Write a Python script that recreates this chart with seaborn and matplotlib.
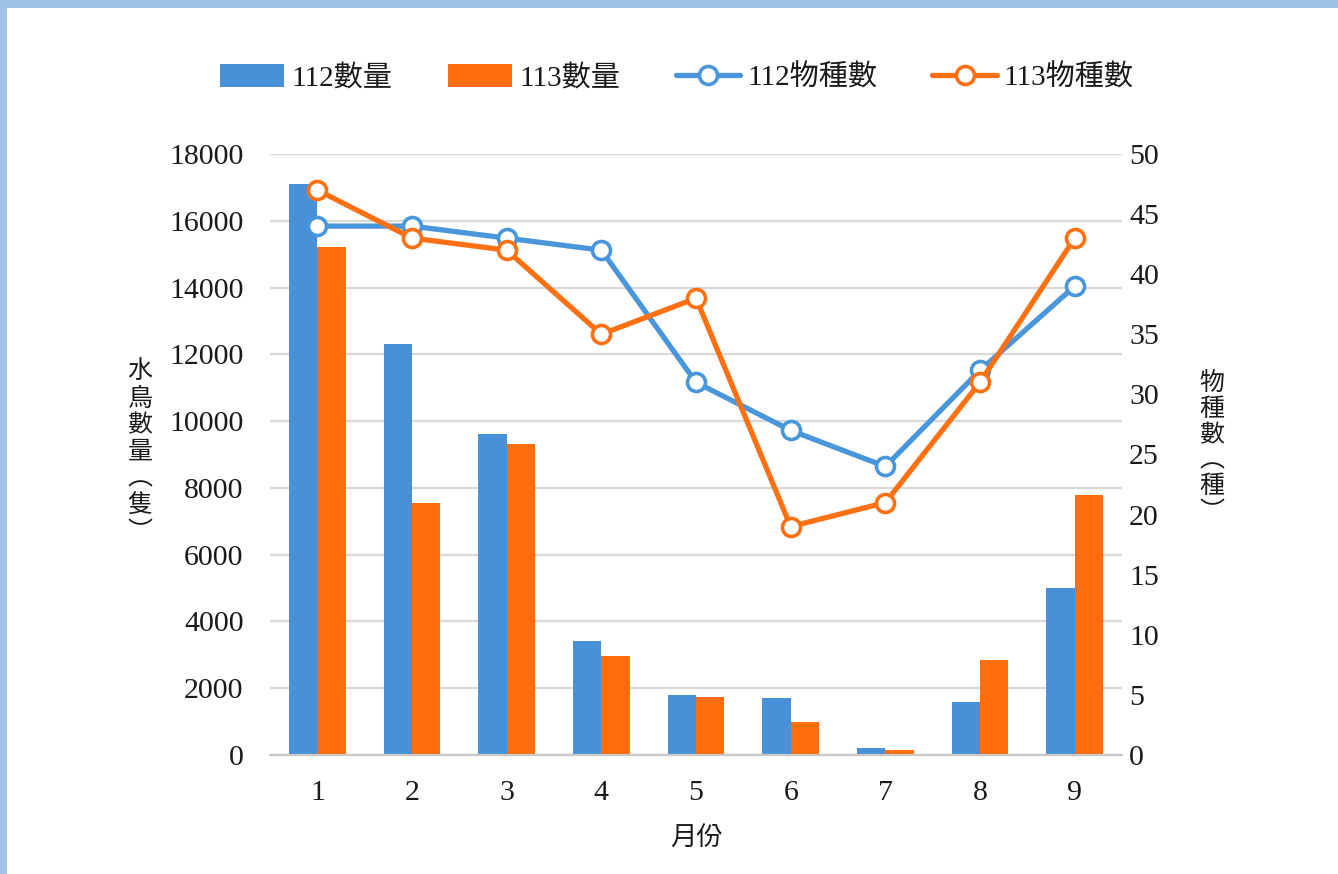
import numpy as np
import pandas as pd
import matplotlib
matplotlib.use("Agg")
import matplotlib.pyplot as plt
import seaborn as sns
from matplotlib.patches import Patch, Rectangle
from matplotlib.lines import Line2D

months = ["1", "2", "3", "4", "5", "6", "7", "8", "9"]
count_112 = [17100, 12300, 9600, 3400, 1800, 1700, 200, 1600, 5000]
count_113 = [15200, 7550, 9300, 2950, 1750, 1000, 140, 2850, 7800]
species_112 = [44, 44, 43, 42, 31, 27, 24, 32, 39]
species_113 = [47, 43, 42, 35, 38, 19, 21, 31, 43]
series_names = ["112數量", "113數量", "112物種數", "113物種數"]
left_ticks = list(range(0, 18001, 2000))
right_ticks = list(range(0, 51, 5))

BLUE = "#4a90d9"
ORANGE = "#ff6d0d"
LBLUE = "#4a96da"
LORANGE = "#ff7012"
TXT = "#1a1a1a"
FAM = ["Liberation Serif", "Noto Sans CJK TC"]

sns.set_theme(style="white")
plt.rcParams["font.family"] = FAM

df = pd.DataFrame({
    "month": months * 2,
    "count": count_112 + count_113,
    "year": [series_names[0]] * len(months) + [series_names[1]] * len(months),
})

fig = plt.figure(figsize=(13.38, 8.74), dpi=100)
ax = fig.add_axes([0.2018, 0.1362, 0.6368, 0.6876])

sns.barplot(data=df, x="month", y="count", hue="year", order=months,
            palette=[BLUE, ORANGE], width=0.6, saturation=1, ax=ax,
            legend=False, linewidth=0, edgecolor="none", zorder=2)
ax.set_ylim(0, 18000)
ax.set_yticks(left_ticks)
ax.set_yticklabels([str(t) for t in left_ticks])
ax.set_xlim(-0.5, len(months) - 0.5)
ax.grid(axis="y", color="#d9d9d9", linewidth=1.6, zorder=0)
ax.set_axisbelow(True)
for s in ["top", "left", "right"]:
    ax.spines[s].set_visible(False)
ax.spines["bottom"].set_color("#c8c8c8")
ax.spines["bottom"].set_linewidth(1.6)
ax.tick_params(axis="both", length=0, labelsize=21.5, colors=TXT)
ax.tick_params(axis="y", pad=19)
ax.tick_params(axis="x", pad=18)
ax.set_xlabel("")
ax.set_ylabel("")

ax2 = ax.twinx()
pos = np.arange(len(months))
sns.lineplot(x=pos, y=species_112, ax=ax2, color=LBLUE, linewidth=3.8,
             marker="o", markersize=13, markerfacecolor="white",
             markeredgecolor=LBLUE, markeredgewidth=2.6, zorder=3)
sns.lineplot(x=pos, y=species_113, ax=ax2, color=LORANGE, linewidth=3.8,
             marker="o", markersize=13, markerfacecolor="white",
             markeredgecolor=LORANGE, markeredgewidth=2.6, zorder=4)
ax2.set_ylim(0, 50)
ax2.set_yticks(right_ticks)
ax2.set_yticklabels([str(t) for t in right_ticks])
for s in ["top", "left", "right", "bottom"]:
    ax2.spines[s].set_visible(False)
ax2.tick_params(axis="y", length=0, labelsize=21.5, colors=TXT, pad=5)
ax2.grid(False)
ax2.set_ylabel("")

# axis titles (vertical stacked)
fig.text(140 / 1338, 1 - 452 / 874, "\n".join("水鳥數量︵隻︶"), ha="center",
         va="center", fontsize=18, color=TXT, linespacing=1.25, family=FAM)
fig.text(1212 / 1338, 1 - 448 / 874, "\n".join("物種數︵種︶"), ha="center",
         va="center", fontsize=18, color=TXT, linespacing=1.2, family=FAM)
fig.text(697 / 1338, 1 - 838 / 874, "月份", ha="center", va="center",
         fontsize=19, color=TXT, family=FAM)

handles = [
    Patch(facecolor=BLUE, edgecolor="none"),
    Patch(facecolor=ORANGE, edgecolor="none"),
    Line2D([], [], color=LBLUE, linewidth=3.8, marker="o", markersize=13,
           markerfacecolor="white", markeredgecolor=LBLUE, markeredgewidth=2.6),
    Line2D([], [], color=LORANGE, linewidth=3.8, marker="o", markersize=13,
           markerfacecolor="white", markeredgecolor=LORANGE, markeredgewidth=2.6),
]
leg = fig.legend(handles, series_names, loc="center", ncol=4,
                 bbox_to_anchor=(677 / 1338, 1 - 78 / 874), frameon=False,
                 fontsize=21, handlelength=2.2, handleheight=0.8,
                 handletextpad=0.25, columnspacing=1.9)
for t in leg.get_texts():
    t.set_color(TXT)

# light-blue frame at top and left
fig.add_artist(Rectangle((0, 1 - 8 / 874), 1, 8 / 874, transform=fig.transFigure,
                         facecolor="#9dc3e6", edgecolor="none"))
fig.add_artist(Rectangle((0, 0), 7 / 1338, 1, transform=fig.transFigure,
                         facecolor="#9dc3e6", edgecolor="none"))

fig.savefig("out.png", dpi=100)
